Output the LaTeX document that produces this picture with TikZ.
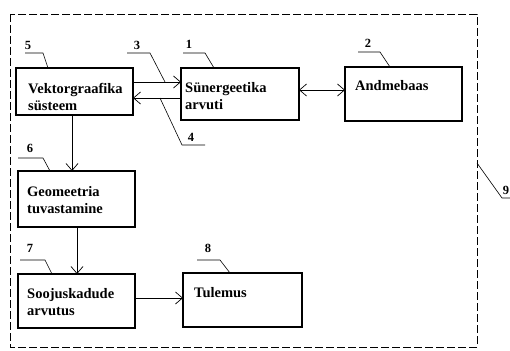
\documentclass[tikz,border=0pt]{standalone}
\usepackage{fontspec}
\setmainfont{Liberation Serif}
\usetikzlibrary{arrows.meta}
\begin{document}
\begin{tikzpicture}[x=1pt,y=-1pt,
  box/.style={draw,line width=1.7pt,rectangle,inner sep=0pt,outer sep=0pt,anchor=north west},
  txt/.style={anchor=west,inner sep=0pt,align=left,font=\fontsize{14.5}{17}\selectfont\bfseries},
  num/.style={inner sep=0pt,font=\fontsize{12.5}{14}\selectfont\bfseries},
  arr/.style={line width=0.7pt,-{Straight Barb[length=7pt,width=12pt]}},
  darr/.style={line width=0.7pt,{Straight Barb[length=7pt,width=12pt]}-{Straight Barb[length=7pt,width=12pt]}},
  lead/.style={line width=0.6pt},
  frame/.style={line width=0.7pt,dash pattern=on 8pt off 3pt}]
\useasboundingbox (0,0) rectangle (510,350);
% frame
\draw[frame] (10,14) rectangle (477,347);
% boxes
\node[box,minimum width=117pt,minimum height=47pt] (b5) at (16,68) {};
\node[box,minimum width=118pt,minimum height=52pt] (b1) at (181,68) {};
\node[box,minimum width=117pt,minimum height=54pt] (b2) at (345,67) {};
\node[box,minimum width=117pt,minimum height=56pt] (b6) at (18,171) {};
\node[box,minimum width=117pt,minimum height=54pt] (b7) at (18,274) {};
\node[box,minimum width=119pt,minimum height=54pt] (b8) at (183,273) {};
% texts
\node[txt] (t5) at (28,97) {Vektorgraafika\\süsteem};
\node[txt] (t1) at (185,96.5) {Sünergeetika\\arvuti};
\node[txt] (t2) at (355,86) {Andmebaas};
\node[txt] (t6) at (27,200.5) {Geomeetria\\tuvastamine};
\node[txt] (t7) at (27,302.5) {Soojuskadude\\arvutus};
\node[txt] (t8) at (194,293) {Tulemus};
% arrows
\coordinate (y3) at (0,82);
\coordinate (y4) at (0,98);
\coordinate (y12) at (0,90);
\coordinate (x56) at (72,0);
\coordinate (x67) at (77,0);
\coordinate (y78) at (0,298);
\draw[arr] (b5.east |- y3) -- (b1.west |- y3);
\draw[arr] (b1.west |- y4) -- (b5.east |- y4);
\draw[darr] (b1.east |- y12) -- (b2.west |- y12);
\draw[arr] (b5.south -| x56) -- (b6.north -| x56);
\draw[arr] (b6.south -| x67) -- (b7.north -| x67);
\draw[arr] (b7.east |- y78) -- (b8.west |- y78);
% labels
\node[num] (n5) at (28,45) {5};
\node[num] (n3) at (137,45) {3};
\node[num] (n1) at (189,44) {1};
\node[num] (n2) at (368,43) {2};
\node[num] (n4) at (191,137) {4};
\node[num] (n6) at (30,148) {6};
\node[num] (n7) at (30,248) {7};
\node[num] (n8) at (208,248) {8};
\node[num] (n9) at (506,190) {9};
% leaders
\draw[lead] (25,53) -- (43,53) -- (48,68);
\draw[lead] (127,53) -- (150,53) -- (165,82);
\draw[lead] (183,53) -- (205,53) -- (214,68);
\draw[lead] (358,52) -- (380,52) -- (390,67);
\draw[lead] (160,98) -- (182,145) -- (205,145);
\draw[lead] (18,158) -- (43,158) -- (50,171);
\draw[lead] (20,260) -- (45,260) -- (52,274);
\draw[lead] (197,260) -- (220,260) -- (230,273);
\draw[lead] (477,163) -- (502,198) -- (510,198);
\end{tikzpicture}
\end{document}
